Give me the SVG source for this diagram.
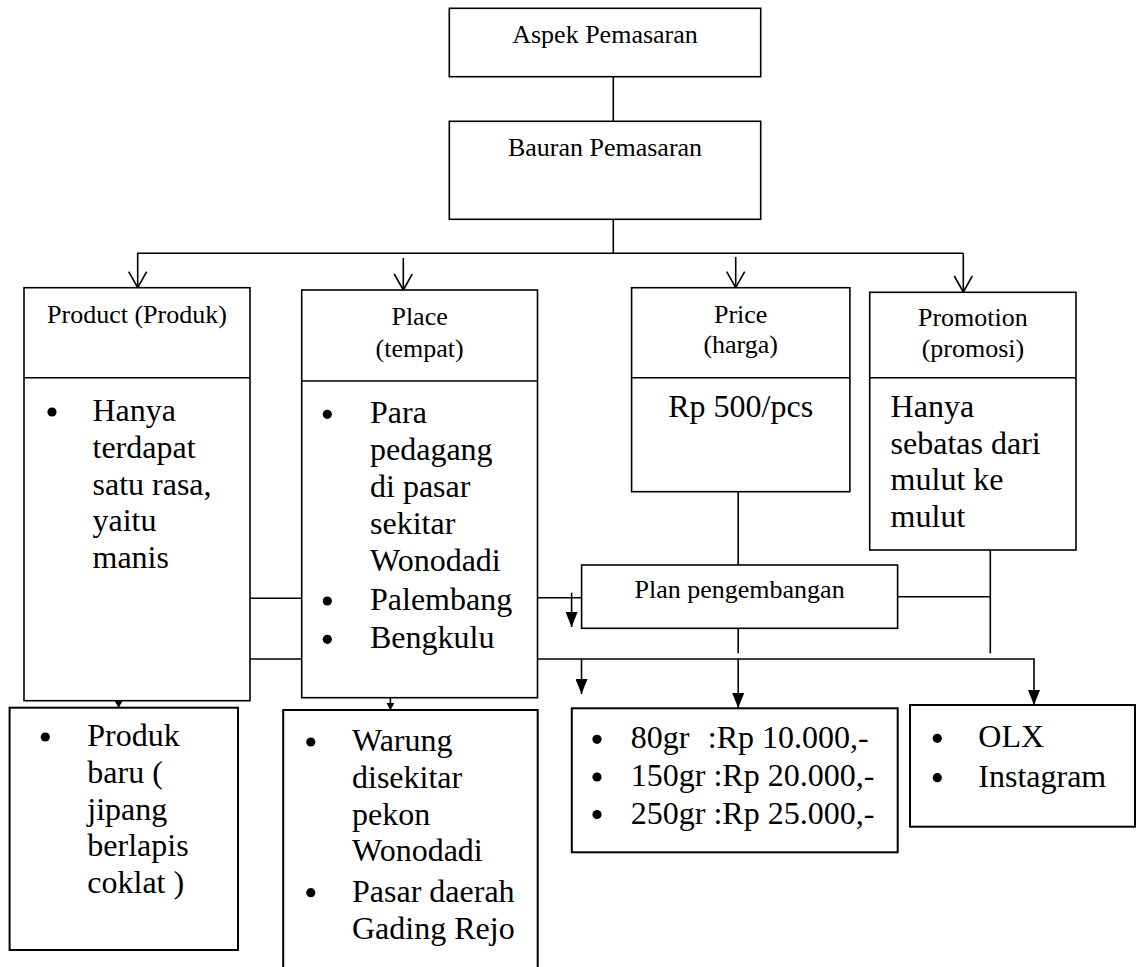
<svg xmlns="http://www.w3.org/2000/svg" width="1138" height="967" viewBox="0 0 1138 967">
<style>
.box{fill:#fff;stroke:#000;stroke-width:1.6}
.box2{fill:#fff;stroke:#000;stroke-width:2}
.ln{fill:none;stroke:#000;stroke-width:1.6}
.dot{fill:#000}
.h{font-family:"Liberation Serif","Times New Roman",serif;font-size:26px;fill:#000;text-anchor:middle}
.b{font-family:"Liberation Serif","Times New Roman",serif;font-size:32px;fill:#000}
.bc{font-family:"Liberation Serif","Times New Roman",serif;font-size:32px;fill:#000;text-anchor:middle}
</style>
<defs>
<marker id="open" viewBox="-2 -2 20 22" refX="16" refY="9" markerWidth="20" markerHeight="22" markerUnits="userSpaceOnUse" orient="auto">
<path d="M0,0 L16,9 L0,18" fill="none" stroke="#000" stroke-width="1.6"/>
</marker>
<marker id="fill" viewBox="0 0 15 12" refX="15" refY="6" markerWidth="15" markerHeight="12" markerUnits="userSpaceOnUse" orient="auto">
<path d="M0,0 L15,6 L0,12 z" fill="#000"/>
</marker>
<marker id="small" viewBox="0 0 7 8" refX="7" refY="4" markerWidth="7" markerHeight="8" markerUnits="userSpaceOnUse" orient="auto">
<path d="M0,0 L7,4 L0,8 z" fill="#000"/>
</marker>
</defs>

<g id="connectors">
<line class="ln" x1="613.3" y1="77" x2="613.3" y2="121.3"/>
<line class="ln" x1="613.3" y1="219.3" x2="613.3" y2="253.3"/>
<line class="ln" x1="137" y1="253.3" x2="963.3" y2="253.3"/>
<line class="ln" x1="137.7" y1="253.3" x2="137.7" y2="287.7" marker-end="url(#open)"/>
<line class="ln" x1="403.3" y1="258" x2="403.3" y2="290" marker-end="url(#open)"/>
<line class="ln" x1="735.7" y1="257" x2="735.7" y2="287.7" marker-end="url(#open)"/>
<line class="ln" x1="963.3" y1="253.3" x2="963.3" y2="292" marker-end="url(#open)"/>
<line class="ln" x1="250" y1="598.3" x2="301.7" y2="598.3"/>
<line class="ln" x1="250" y1="659" x2="301.7" y2="659"/>
<line class="ln" x1="537.5" y1="597.7" x2="581.6" y2="597.7"/>
<line class="ln" x1="571.6" y1="592.7" x2="571.6" y2="627" marker-end="url(#fill)"/>
<line class="ln" x1="738.2" y1="491.7" x2="738.2" y2="565"/>
<line class="ln" x1="990.3" y1="550" x2="990.3" y2="653.3"/>
<line class="ln" x1="897.6" y1="596.7" x2="990.3" y2="596.7"/>
<line class="ln" x1="738.2" y1="628.3" x2="738.2" y2="653.3"/>
<path class="ln" d="M537.5,659 H1034 V705" marker-end="url(#fill)"/>
<line class="ln" x1="581.5" y1="659" x2="581.5" y2="694" marker-end="url(#fill)"/>
<line class="ln" x1="738.2" y1="659" x2="738.2" y2="708" marker-end="url(#fill)"/>
<line class="ln" x1="118.6" y1="700" x2="118.6" y2="707.7" marker-end="url(#small)"/>
<line class="ln" x1="390.4" y1="697" x2="390.4" y2="710" marker-end="url(#small)"/>
</g>

<g id="aspek">
<rect class="box" x="449.3" y="8.3" width="311.4" height="68.4"/>
<text class="h" x="605" y="43.3">Aspek Pemasaran</text>
</g>

<g id="bauran">
<rect class="box" x="449.3" y="121.3" width="311.4" height="98"/>
<text class="h" x="605" y="156">Bauran Pemasaran</text>
</g>

<g id="product">
<rect class="box" x="24" y="287.7" width="226" height="413"/>
<line class="ln" x1="24" y1="377.7" x2="250" y2="377.7"/>
<text class="h" x="137" y="323.3">Product (Produk)</text>
<circle class="dot" cx="52" cy="412" r="4.6"/>
<text class="b" x="92.5" y="421">Hanya</text>
<text class="b" x="92.5" y="457.8">terdapat</text>
<text class="b" x="92.5" y="494.6">satu rasa,</text>
<text class="b" x="92.5" y="531.4">yaitu</text>
<text class="b" x="92.5" y="568.2">manis</text>
</g>

<g id="place">
<rect class="box" x="301.7" y="290" width="235.8" height="407.7"/>
<line class="ln" x1="301.7" y1="381" x2="537.5" y2="381"/>
<text class="h" x="419.6" y="325">Place</text>
<text class="h" x="419.6" y="356.7">(tempat)</text>
<circle class="dot" cx="327.3" cy="414.3" r="4.6"/>
<text class="b" x="370" y="423.3">Para</text>
<text class="b" x="370" y="460.1">pedagang</text>
<text class="b" x="370" y="496.9">di pasar</text>
<text class="b" x="370" y="533.7">sekitar</text>
<text class="b" x="370" y="570.5">Wonodadi</text>
<circle class="dot" cx="327.3" cy="601" r="4.6"/>
<text class="b" x="370" y="610">Palembang</text>
<circle class="dot" cx="327.3" cy="639.3" r="4.6"/>
<text class="b" x="370" y="648.3">Bengkulu</text>
</g>

<g id="price">
<rect class="box" x="631.6" y="287.7" width="218.3" height="204"/>
<line class="ln" x1="631.6" y1="377.7" x2="849.9" y2="377.7"/>
<text class="h" x="740.7" y="323.3">Price</text>
<text class="h" x="740.7" y="353.3">(harga)</text>
<text class="bc" x="740.7" y="416.7">Rp 500/pcs</text>
</g>

<g id="promotion">
<rect class="box" x="869.7" y="292.3" width="206.3" height="257.7"/>
<line class="ln" x1="869.7" y1="377.7" x2="1076" y2="377.7"/>
<text class="h" x="972.9" y="326">Promotion</text>
<text class="h" x="972.9" y="356.7">(promosi)</text>
<text class="b" x="890.6" y="416.7">Hanya</text>
<text class="b" x="890.6" y="453.5">sebatas dari</text>
<text class="b" x="890.6" y="490.3">mulut ke</text>
<text class="b" x="890.6" y="527.1">mulut</text>
</g>

<g id="plan">
<rect class="box" x="581.6" y="565" width="316" height="63.3"/>
<text class="h" x="739.6" y="598.3">Plan pengembangan</text>
</g>

<g id="produk-baru">
<rect class="box2" x="9.6" y="707.7" width="228.4" height="242.3"/>
<circle class="dot" cx="45.3" cy="737" r="4.6"/>
<text class="b" x="87.3" y="746">Produk</text>
<text class="b" x="87.3" y="782.8">baru (</text>
<text class="b" x="87.3" y="819.6">jipang</text>
<text class="b" x="87.3" y="856.4">berlapis</text>
<text class="b" x="87.3" y="893.2">coklat )</text>
</g>

<g id="warung">
<rect class="box2" x="283.2" y="710" width="254.5" height="280"/>
<circle class="dot" cx="310.8" cy="742" r="4.6"/>
<text class="b" x="352" y="751">Warung</text>
<text class="b" x="352" y="787.8">disekitar</text>
<text class="b" x="352" y="824.6">pekon</text>
<text class="b" x="352" y="861.4">Wonodadi</text>
<circle class="dot" cx="310.8" cy="892.7" r="4.6"/>
<text class="b" x="352" y="901.7">Pasar daerah</text>
<text class="b" x="352" y="938.5">Gading Rejo</text>
</g>

<g id="harga-list">
<rect class="box2" x="571.8" y="708.3" width="325.9" height="144"/>
<circle class="dot" cx="597" cy="739.3" r="4.6"/>
<text class="b" x="630.8" y="748.3">80gr</text>
<text class="b" x="707.8" y="748.3">:Rp 10.000,-</text>
<circle class="dot" cx="597" cy="777" r="4.6"/>
<text class="b" x="630.8" y="786">150gr :Rp 20.000,-</text>
<circle class="dot" cx="597" cy="814.5" r="4.6"/>
<text class="b" x="630.8" y="823.5">250gr :Rp 25.000,-</text>
</g>

<g id="promosi-list">
<rect class="box2" x="910" y="705" width="225" height="121.7"/>
<circle class="dot" cx="937.3" cy="738.3" r="4.6"/>
<text class="b" x="978.3" y="747.3">OLX</text>
<circle class="dot" cx="937.3" cy="777.7" r="4.6"/>
<text class="b" x="978.3" y="786.7">Instagram</text>
</g>
</svg>
